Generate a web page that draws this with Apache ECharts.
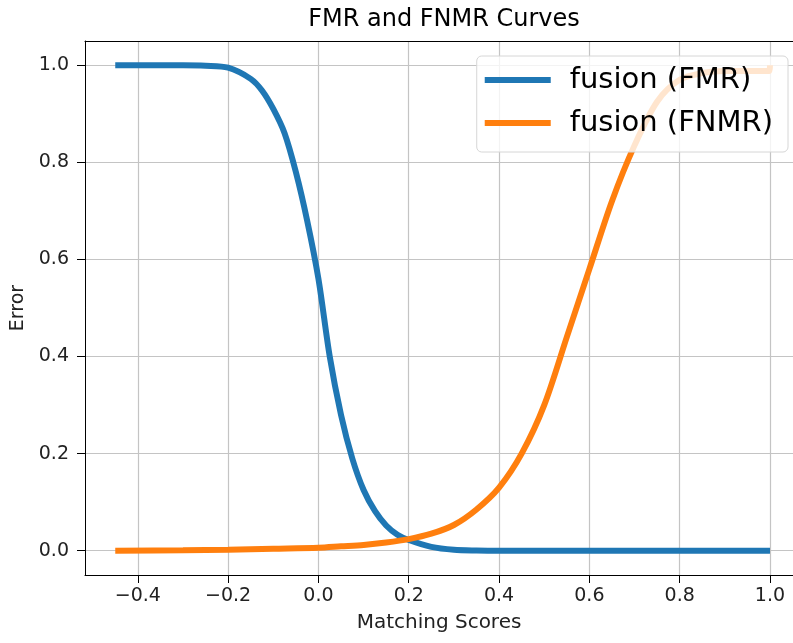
<!DOCTYPE html>
<html>
<head>
<meta charset="utf-8">
<script src="https://cdn.jsdelivr.net/npm/echarts@6/dist/echarts.min.js"></script>
<style>
  html, body { margin: 0; padding: 0; background: #fff; }
  #chart { width: 793px; height: 643px; }
</style>
</head>
<body>
<div id="chart"></div>
<script>
// FMR curve (blue)
const fmrScores = [-0.45, -0.35, -0.3, -0.25, -0.2, -0.15, -0.125, -0.1, -0.075, -0.05, -0.025, 0, 0.025, 0.05, 0.075, 0.1, 0.125, 0.15, 0.175, 0.2, 0.25, 0.3, 0.35, 0.4, 0.6, 0.8, 1.0]
const fmrValues = [1.0, 1.0, 1.0, 0.999, 0.995, 0.972, 0.948, 0.91, 0.86, 0.78, 0.68, 0.56, 0.4, 0.28, 0.19, 0.125, 0.082, 0.052, 0.033, 0.022, 0.008, 0.002, 0.0005, 0, 0, 0, 0]

// FNMR curve (orange)
const fnmrScores = [-0.45, -0.3, -0.2, -0.1, 0, 0.05, 0.1, 0.15, 0.2, 0.25, 0.3, 0.35, 0.4, 0.45, 0.5, 0.55, 0.6, 0.65, 0.7, 0.75, 0.8, 0.85, 0.9, 0.95, 0.999, 1.0]
const fnmrValues = [0, 0.001, 0.002, 0.004, 0.006, 0.009, 0.012, 0.017, 0.024, 0.035, 0.053, 0.085, 0.13, 0.2, 0.3, 0.44, 0.58, 0.72, 0.835, 0.925, 0.97, 0.984, 0.988, 0.988, 0.988, 1.0]

// tick positions
const xTicks = [-0.4, -0.2, 0.0, 0.2, 0.4, 0.6, 0.8, 1.0]
const yTicks = [0.0, 0.2, 0.4, 0.6, 0.8, 1.0]

const fmtTick = v => (v < 0 ? '\u2212' : '') + Math.abs(v).toFixed(1)

const chart = echarts.init(document.getElementById('chart'))
const font = 'DejaVu Sans'

const option = {
  animation: false,
  backgroundColor: '#fff',
  textStyle: { fontFamily: font },
  title: {
    text: 'FMR and FNMR Curves',
    left: 444,
    top: 8,
    textAlign: 'center',
    padding: 0,
    textStyle: { fontFamily: font, fontSize: 24, fontWeight: 'normal', color: '#000' }
  },
  grid: {
    left: 85,
    top: 41,
    right: 0,
    bottom: 68
  },
  legend: {
    orient: 'vertical',
    right: 5,
    top: 56,
    padding: [7, 15, 12, 8],
    itemGap: 9,
    itemWidth: 66,
    itemHeight: 6,
    icon: 'rect',
    backgroundColor: 'rgba(255,255,255,0.8)',
    borderColor: '#d6d6d6',
    borderWidth: 1,
    borderRadius: 5,
    textStyle: { fontFamily: font, fontSize: 29, color: '#000', lineHeight: 34, padding: [0, 0, 0, 14] },
    data: ['fusion (FMR)', 'fusion (FNMR)']
  },
  xAxis: [
    {
      type: 'value',
      position: 'bottom',
      min: -0.517,
      max: 1.051,
      name: 'Matching Scores',
      nameLocation: 'middle',
      nameGap: 38,
      nameTextStyle: { fontFamily: font, fontSize: 20, color: '#222' },
      axisLine: { show: true, onZero: false, lineStyle: { color: '#000', width: 1 } },
      axisTick: { show: true, inside: false, length: 8, customValues: xTicks, lineStyle: { color: '#000' } },
      axisLabel: { fontFamily: font, fontSize: 19, color: '#222', margin: 12, customValues: xTicks, formatter: fmtTick },
      splitLine: { show: true, lineStyle: { color: '#c4c4c4', width: 1.2 } }
    },
    {
      // top spine only
      type: 'value',
      position: 'top',
      min: -0.517,
      max: 1.051,
      axisLine: { show: true, onZero: false, lineStyle: { color: '#000', width: 1 } },
      axisTick: { show: false },
      axisLabel: { show: false },
      splitLine: { show: false }
    }
  ],
  yAxis: {
    type: 'value',
    min: -0.05,
    max: 1.05,
    name: 'Error',
    nameLocation: 'middle',
    nameGap: 56,
    nameRotate: 90,
    nameTextStyle: { fontFamily: font, fontSize: 19, color: '#222' },
    axisLine: { show: true, onZero: false, lineStyle: { color: '#000', width: 1 } },
    axisTick: { show: true, inside: false, length: 8, customValues: yTicks, lineStyle: { color: '#000' } },
    axisLabel: { fontFamily: font, fontSize: 19, color: '#222', margin: 16, customValues: yTicks, formatter: fmtTick },
    splitLine: { show: true, lineStyle: { color: '#c4c4c4', width: 1.2 } }
  },
  series: [
    {
      name: 'fusion (FMR)',
      type: 'line',
      showSymbol: false,
      smooth: 0.3,
      color: '#1f77b4',
      lineStyle: { width: 6, color: '#1f77b4' },
      data: fmrScores.map((x, i) => [x, fmrValues[i]])
    },
    {
      name: 'fusion (FNMR)',
      type: 'line',
      showSymbol: false,
      smooth: 0.3,
      color: '#ff7f0e',
      lineStyle: { width: 6, color: '#ff7f0e' },
      data: fnmrScores.map((x, i) => [x, fnmrValues[i]])
    }
  ]
}

chart.setOption(option)
</script>
</body>
</html>
